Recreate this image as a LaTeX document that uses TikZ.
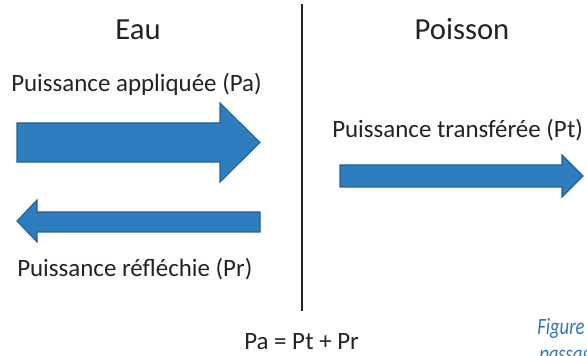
\documentclass[tikz,border=0pt]{standalone}
\usepackage{fontspec}
\setmainfont{Carlito}
\newfontfamily\captfont[FakeStretch=0.8]{Carlito}
\usepackage{xcolor}
\usepackage{tikz}
\usetikzlibrary{positioning,calc}
\definecolor{flowblue}{RGB}{46,125,190}
\definecolor{flowedge}{RGB}{38,95,145}
\definecolor{captblue}{RGB}{52,118,180}
\definecolor{txtgray}{RGB}{35,35,35}
\tikzset{
  title/.style={font=\fontsize{23}{27}\selectfont, text=txtgray, inner sep=0pt},
  lbl/.style={font=\fontsize{18.7}{22}\selectfont, text=txtgray, inner sep=0pt},
  capt/.style={font=\captfont\fontsize{17.5}{21}\selectfont\itshape, text=captblue, inner sep=0pt},
  flow/.style={fill=flowblue, draw=flowedge, line width=0.8pt, line join=miter},
  divider/.style={line width=1.5pt, draw=txtgray}
}
\begin{document}
\begin{tikzpicture}[x=0.75pt, y=-0.75pt]
\clip (0,0) rectangle (587,356);
\fill[white] (0,0) rectangle (587,356);
% column titles
\node[title, anchor=base] (eau) at (138,40) {Eau};
\node[title, anchor=base] (poisson) at (462,40) {Poisson};
% divider
\coordinate (top) at (302,4);
\coordinate (bot) at (302,311);
\draw[divider] (top) -- (bot);
% applied power
\node[lbl, anchor=base west] (pa) at (11,92) {Puissance appliquée (Pa)};
\draw[flow] (17,123) -- (220,123) -- (220,103) -- (260,142.5) -- (220,182) -- (220,162) -- (17,162) -- cycle;
% reflected power
\draw[flow] (260,212) -- (37,212) -- (37,200) -- (17,221) -- (37,242) -- (37,232) -- (260,232) -- cycle;
\node[lbl, anchor=base west] (pr) at (17,277) {Puissance réfléchie (Pr)};
% transferred power
\node[lbl, anchor=base west] (pt) at (332,138) {Puissance transférée (Pt)};
\draw[flow] (340,165) -- (562,165) -- (562,155) -- (583,176) -- (562,197) -- (562,187) -- (340,187) -- cycle;
% balance
\node[lbl, anchor=base west] (bilan) at (244,350) {Pa = Pt + Pr};
% caption, cut by the frame
\node[capt, anchor=base west] (fig) at (537,335) {Figure};
\node[capt, anchor=base west] (fig2) at (539,362) {passage};
\end{tikzpicture}
\end{document}
